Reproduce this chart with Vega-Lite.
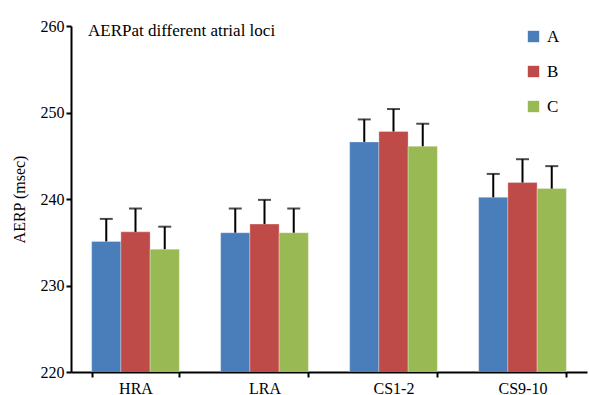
{
  "$schema": "https://vega.github.io/schema/vega-lite/v6.json",
  "width": 516,
  "height": 346,
  "autosize": {"type": "none"},
  "padding": {"left": 71, "top": 26, "right": 2, "bottom": 23},
  "background": "white",
  "config": {
    "view": {"stroke": null},
    "font": "Liberation Serif",
    "axis": {"grid": false, "labelFont": "Liberation Serif", "titleFont": "Liberation Serif"}
  },
  "title": {"text": "AERPat different atrial loci", "anchor": "start", "frame": "group", "orient": "top", "dx": 17, "dy": 35, "baseline": "alphabetic", "fontSize": 17, "font": "Liberation Serif", "fontWeight": "normal", "color": "black", "offset": 0},
  "data": {"values": [
    {"site": "HRA", "group": "A", "value": 235.1, "upper": 237.7},
    {"site": "HRA", "group": "B", "value": 236.2, "upper": 238.9},
    {"site": "HRA", "group": "C", "value": 234.2, "upper": 236.8},
    {"site": "LRA", "group": "A", "value": 236.1, "upper": 238.9},
    {"site": "LRA", "group": "B", "value": 237.1, "upper": 239.9},
    {"site": "LRA", "group": "C", "value": 236.1, "upper": 238.9},
    {"site": "CS1-2", "group": "A", "value": 246.6, "upper": 249.2},
    {"site": "CS1-2", "group": "B", "value": 247.8, "upper": 250.4},
    {"site": "CS1-2", "group": "C", "value": 246.1, "upper": 248.7},
    {"site": "CS9-10", "group": "A", "value": 240.2, "upper": 242.9},
    {"site": "CS9-10", "group": "B", "value": 241.9, "upper": 244.6},
    {"site": "CS9-10", "group": "C", "value": 241.2, "upper": 243.8}
  ]},
  "encoding": {
    "x": {"field": "site", "type": "nominal", "sort": ["HRA", "LRA", "CS1-2", "CS9-10"],
      "scale": {"paddingInner": 0.32, "paddingOuter": 0.16},
      "axis": {"title": null, "labelAngle": 0, "tickBand": "extent", "labelFont": "Liberation Serif", "labelFontSize": 16, "labelColor": "black", "labelPadding": 3, "domainColor": "black", "domainWidth": 2, "tickColor": "black", "tickWidth": 2, "tickSize": 5}},
    "xOffset": {"field": "group", "type": "nominal", "sort": ["A", "B", "C"], "scale": {"paddingInner": 0, "paddingOuter": 0}}
  },
  "layer": [
    {
      "mark": {"type": "bar", "clip": true, "stroke": "white", "strokeWidth": 0.5, "strokeOpacity": 0.6},
      "encoding": {
        "y": {"field": "value", "type": "quantitative", "scale": {"domain": [220, 260], "zero": false, "nice": false},
          "axis": {"title": "AERP (msec)", "values": [220, 230, 240, 250, 260], "labelFont": "Liberation Serif", "labelFontSize": 16, "labelColor": "black", "titleFont": "Liberation Serif", "titleFontSize": 16, "titleColor": "black", "titleFontWeight": "normal", "titlePadding": 13, "labelPadding": 2, "domainColor": "black", "domainWidth": 2, "tickColor": "black", "tickWidth": 2, "tickSize": 5}},
        "color": {"field": "group", "type": "nominal", "scale": {"domain": ["A", "B", "C"], "range": ["#4a7ebb", "#be4b48", "#98b954"]},
          "legend": {"title": null, "orient": "none", "legendX": 454, "legendY": 2, "symbolType": "square", "symbolSize": 130, "symbolStrokeWidth": 0, "labelFont": "Liberation Serif", "labelFontSize": 17, "labelOffset": 5, "rowPadding": 17, "labelColor": "black"}}
      }
    },
    {
      "mark": {"type": "rule", "color": "black", "strokeWidth": 2},
      "encoding": {
        "y": {"field": "value", "type": "quantitative"},
        "y2": {"field": "upper"}
      }
    },
    {
      "mark": {"type": "tick", "color": "black", "thickness": 2, "size": 13, "orient": "horizontal"},
      "encoding": {
        "y": {"field": "upper", "type": "quantitative"}
      }
    }
  ]
}
